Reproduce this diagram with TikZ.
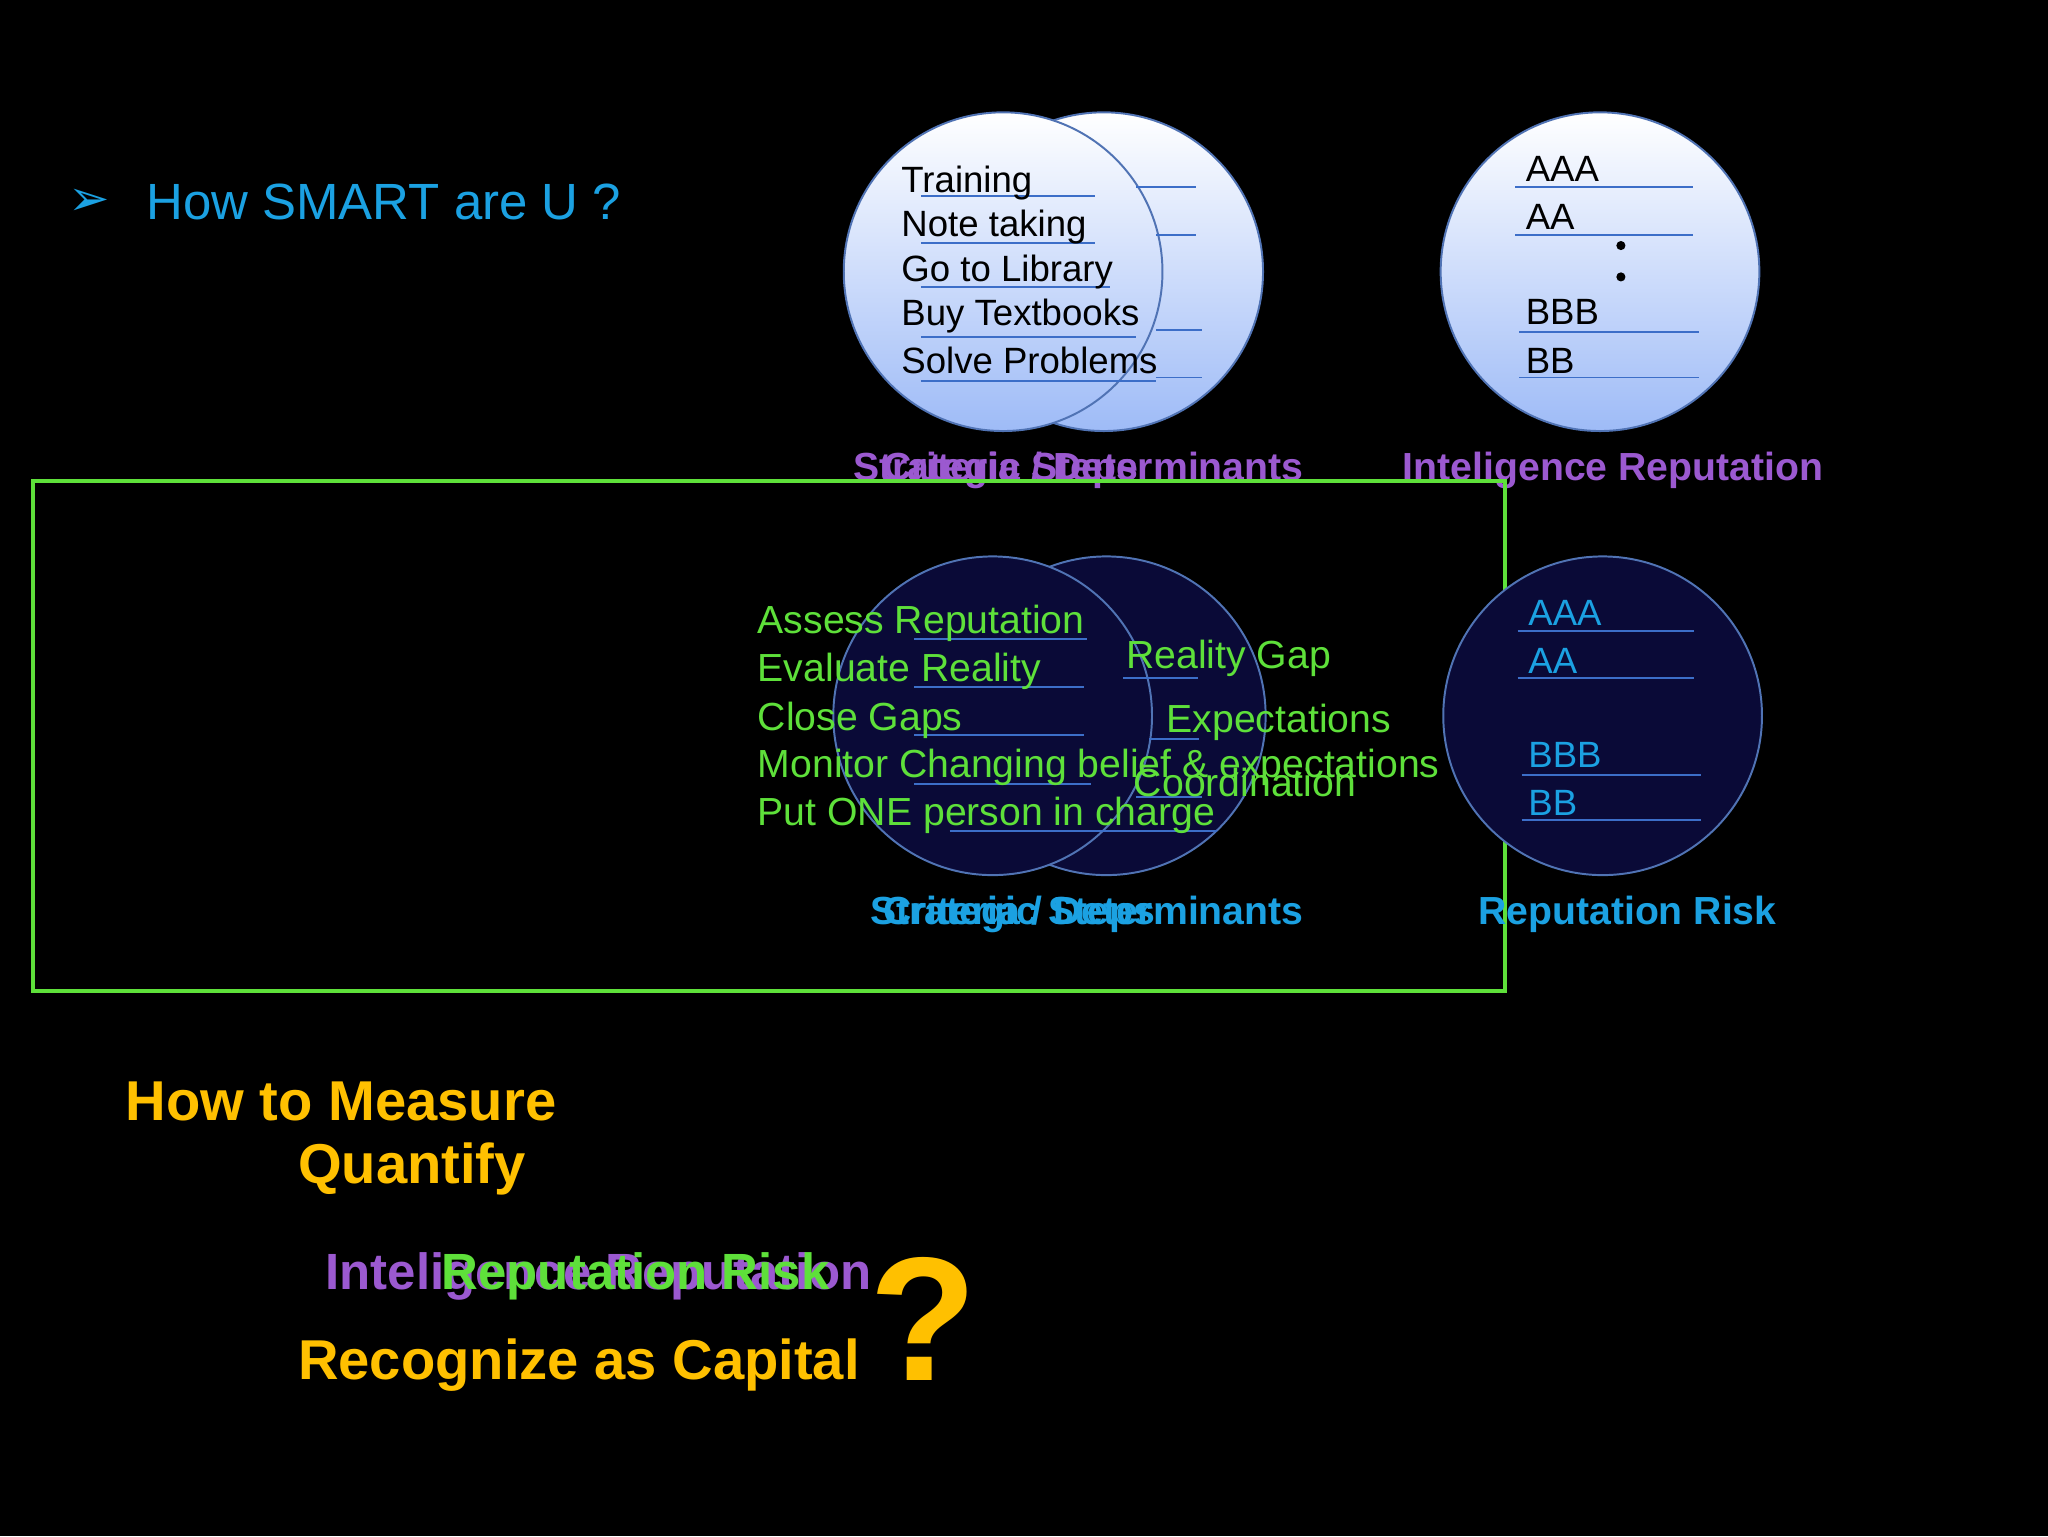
\documentclass[tikz,border=0pt]{standalone}
\usepackage{fontspec}
\setmainfont{Liberation Sans}
\newfontfamily\dv{DejaVu Sans}
\definecolor{cy}{RGB}{27,161,226}
\definecolor{pu}{RGB}{155,89,208}
\definecolor{gr}{RGB}{94,224,58}
\definecolor{orn}{RGB}{255,192,0}
\definecolor{lb}{RGB}{158,187,247}
\definecolor{bd}{RGB}{80,115,180}
\definecolor{nv}{RGB}{10,10,55}
\definecolor{ul}{RGB}{60,110,200}
\tikzset{
 lt/.style={circle,minimum size=244pt,draw=bd,line width=1.5pt,top color=white,bottom color=lb,inner sep=0},
 dk/.style={circle,minimum size=244pt,draw=bd,line width=1.5pt,fill=nv,inner sep=0},
 ct/.style={anchor=west,font=\fontsize{28}{30}\selectfont,inner sep=0},
 gt/.style={anchor=base west,font=\fontsize{30}{32}\selectfont,inner sep=0,text=gr},
 lab/.style={font=\bfseries\fontsize{30}{32}\selectfont,inner sep=0},
 bg/.style={font=\bfseries\fontsize{43}{46}\selectfont,text=orn,anchor=west,inner sep=0},
 uline/.style={ul,line width=1.5pt}
}
\begin{document}
\begin{tikzpicture}[x=1pt,y=-1pt]
\fill[black] (0,0) rectangle (1568,1176);
\useasboundingbox (0,0) rectangle (1568,1176);
% title
\node[text=cy,font=\dv\fontsize{38}{40}\selectfont] (arr) at (68,155) {➢};
\node[text=cy,anchor=west,font=\fontsize{39}{42}\selectfont,inner sep=0] (title) at (112,155) {How SMART are U ?};
% top circles
\node[lt] (c2) at (845,208) {};
\node[lt] (c1) at (768,208) {};
\foreach \y/\a/\b in {143/870/916,180/885/916,253/885/920,289/885/920} \draw[uline] (\a,\y) -- (\b,\y);
\foreach \y/\a/\b in {150/705/838,186/705/838,220/705/850,258/705/870,292/705/885} \draw[uline] (\a,\y) -- (\b,\y);
\node[ct] (t1) at (690,140) {Training};
\node[ct] (t2) at (690,174) {Note taking};
\node[ct] (t3) at (690,208) {Go to Library};
\node[ct] (t4) at (690,242) {Buy Textbooks};
\node[ct] (t5) at (690,276) {Solve Problems};
\node[lab,text=pu,anchor=base west] (l1) at (653,368) {Strategic Steps};
\node[lab,text=pu,anchor=base west] (l2) at (676,368) {Criteria / Determinants};
\node[lt] (c3) at (1225,208) {};
\foreach \y/\a/\b in {143/1160/1296,180/1160/1296,254/1163/1301,289/1163/1301} \draw[uline] (\a,\y) -- (\b,\y);
\node[ct] (r1) at (1168,129) {AAA};
\node[ct] (r2) at (1168,166) {AA};
\fill (1241,188) circle (3.5pt) (1241,212) circle (3.5pt);
\node[ct] (r3) at (1168,239) {BBB};
\node[ct] (r4) at (1168,276) {BB};
\node[lab,text=pu,anchor=base] (l3) at (1235,368) {Inteligence Reputation};
% green box
\draw[gr,line width=3pt] (25,368) rectangle (1152,759);
% bottom circles
\node[dk] (d2) at (847,548) {};
\node[dk] (d1) at (760,548) {};
\foreach \y/\a/\b in {519/860/917,566/880/918,610/870/920} \draw[uline] (\a,\y) -- (\b,\y);
\foreach \y/\a/\b in {489/700/832,526/700/830,563/700/830,600/700/835,636/727/932} \draw[uline] (\a,\y) -- (\b,\y);
\node[gt] (g1) at (580,485) {Assess Reputation};
\node[gt] (g2) at (580,522) {Evaluate Reality};
\node[gt] (g3) at (580,559) {Close Gaps};
\node[gt] (g4) at (580,595) {Monitor Changing belief \& expectations};
\node[gt] (g5) at (580,632) {Put ONE person in charge};
\node[gt] (g6) at (862,512) {Reality Gap};
\node[gt] (g7) at (893,561) {Expectations};
\node[gt] (g8) at (868,610) {Coordination};
\node[lab,text=cy,anchor=base west] (l4) at (666,708) {Strategic Steps};
\node[lab,text=cy,anchor=base west] (l5) at (676,708) {Criteria / Determinants};
\node[dk] (c4) at (1227,548) {};
\foreach \y/\a/\b in {483/1162/1297,519/1162/1297,593/1165/1302,628/1165/1302} \draw[uline] (\a,\y) -- (\b,\y);
\node[ct,text=cy] (s1) at (1170,469) {AAA};
\node[ct,text=cy] (s2) at (1170,506) {AA};
\node[ct,text=cy] (s3) at (1170,578) {BBB};
\node[ct,text=cy] (s4) at (1170,615) {BB};
\node[lab,text=cy,anchor=base] (l6) at (1246,708) {Reputation Risk};
% bottom text
\node[bg] (h1) at (96,843) {How to Measure};
\node[bg] (h2) at (228,895) {Quantify};
\node[bg,text=pu,font=\bfseries\fontsize{39}{42}\selectfont,anchor=base west] (h3) at (249,987) {Inteligence Reputation};
\node[bg,text=gr,font=\bfseries\fontsize{39}{42}\selectfont,anchor=base west] (h4) at (338,987) {Reputation Risk};
\node[bg] (h5) at (228,1045) {Recognize as Capital};
\node[text=orn,font=\bfseries\fontsize{135}{140}\selectfont,inner sep=0] (q) at (707,1010) {?};
\end{tikzpicture}
\end{document}
